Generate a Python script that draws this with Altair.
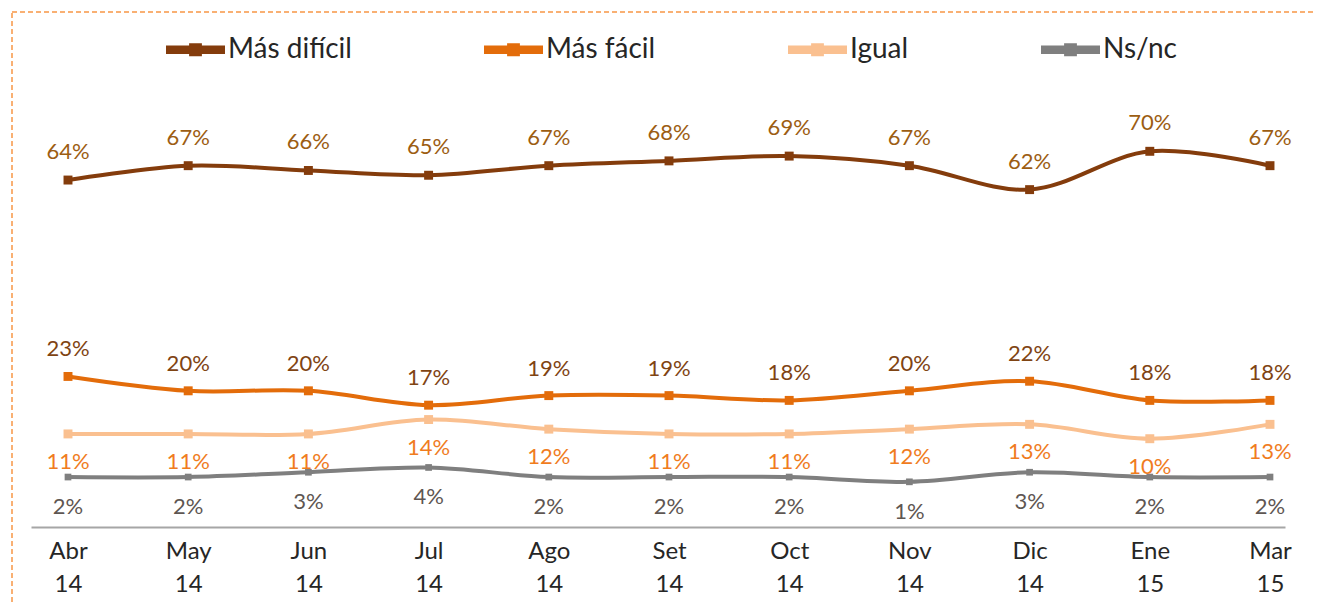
import altair as alt
import pandas as pd

months = ["Abr 14", "May 14", "Jun 14", "Jul 14", "Ago 14", "Set 14",
          "Oct 14", "Nov 14", "Dic 14", "Ene 15", "Mar 15"]
series = ["Más difícil", "Más fácil", "Igual", "Ns/nc"]
mas_dificil = [64, 67, 66, 65, 67, 68, 69, 67, 62, 70, 67]
mas_facil = [23, 20, 20, 17, 19, 19, 18, 20, 22, 18, 18]
igual = [11, 11, 11, 14, 12, 11, 11, 12, 13, 10, 13]
nsnc = [2, 2, 3, 4, 2, 2, 2, 1, 3, 2, 2]

line_colors = ["#843C0C", "#E36C0A", "#FAC090", "#7F7F7F"]
label_colors = ["#9C5D12", "#7F4413", "#F07C1E", "#5E5652"]
label_dy = [-28, -27, 28, 30]

values = [mas_dificil, mas_facil, igual, nsnc]
rows = []
for s, vals in zip(series, values):
    for m, v in zip(months, vals):
        rows.append({"mes": m, "serie": s, "valor": v, "txt": f"{v}%"})
df = pd.DataFrame(rows)

FONT = "Lato"
W, H = 1254, 427

x = alt.X("mes:N", sort=months,
          scale=alt.Scale(type="point", range=[0, W], padding=0.2163, align=0.7115),
          axis=alt.Axis(title=None, labelExpr="split(datum.label, ' ')",
                        ticks=False, domainColor="#A6A6A6", domainWidth=2,
                        labelFont=FONT, labelFontSize=24, labelColor="#262626",
                        labelLineHeight=33, labelPadding=12, labelAngle=0))
y = alt.Y("valor:Q", scale=alt.Scale(domain=[-8.43, 80.71], nice=False, zero=False),
          axis=None)

legend = alt.Legend(title=None, orient="none", legendX=135, legendY=-80,
                    direction="horizontal",
                    symbolType="M-1,-0.08 H1 V0.08 H-1 Z M-0.16,-0.16 H0.16 V0.16 H-0.16 Z",
                    symbolSize=3025, symbolStrokeWidth=0, symbolOpacity=1,
                    labelFont=FONT, labelFontSize=28, labelColor="#262626",
                    labelOffset=3, columnPadding=126)
color = alt.Color("serie:N", sort=series,
                  scale=alt.Scale(domain=series, range=line_colors), legend=legend)

base = alt.Chart(df)

lines = base.mark_line(interpolate="catmull-rom").encode(
    x=x, y=y, color=color,
    strokeWidth=alt.StrokeWidth("serie:N",
                                scale=alt.Scale(domain=series, range=[4, 4, 4, 6]),
                                legend=None))

pts_main = base.transform_filter(alt.datum.serie != "Ns/nc").mark_square(
    filled=True, opacity=1, size=80).encode(x=x, y=y, color=color)
pts_gray = base.transform_filter(alt.datum.serie == "Ns/nc").mark_square(
    filled=True, opacity=1, size=45).encode(x=x, y=y, color=color)

texts = []
for s, c, d in zip(series, label_colors, label_dy):
    texts.append(
        base.transform_filter(alt.datum.serie == s)
        .mark_text(font=FONT, fontSize=22, color=c, dy=d, baseline="middle")
        .encode(x=x, y=y, text="txt:N"))

frame = alt.Chart(pd.DataFrame({"k": [0]})).mark_rect(
    fillOpacity=0, stroke="#F79646", strokeWidth=1.5, strokeDash=[5, 3]
).encode(x=alt.value(-19), x2=alt.value(1320), y=alt.value(-88), y2=alt.value(620))

chart = alt.layer(frame, pts_main, pts_gray, lines, *texts).properties(
    width=W, height=H,
    autosize=alt.AutoSizeParams(type="none"),
    padding={"left": 23, "top": 92, "right": 28, "bottom": 76},
).configure_view(stroke=None)

chart.save("out.html", embed_options={"renderer": "svg", "actions": False})
